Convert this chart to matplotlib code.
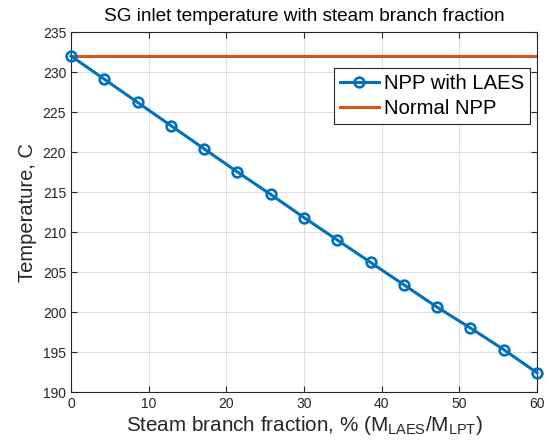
import matplotlib
matplotlib.use('Agg')
import matplotlib.pyplot as plt

plt.rcParams['font.family'] = ['Liberation Sans', 'DejaVu Sans']
plt.rcParams['mathtext.default'] = 'regular'

# steam branch fraction, % and SG inlet temperature, C
branch_frac = [0, 4.29, 8.57, 12.86, 17.14, 21.43, 25.71, 30.0,
               34.29, 38.57, 42.86, 47.14, 51.43, 55.71, 60.0]
temp_laes = [232.0, 229.1, 226.2, 223.3, 220.4, 217.5, 214.7, 211.8,
             209.0, 206.2, 203.4, 200.6, 198.0, 195.3, 192.4]
normal_x = [0, 60]
normal_temp = [232.0, 232.0]

blue = '#0072BD'
orange = '#D95319'
dark = '#262626'

fig = plt.figure(figsize=(5.5, 4.45), dpi=100)
ax = fig.add_axes([71 / 550, 1 - 392 / 445, 466 / 550, 360 / 445])

ax.plot(branch_frac, temp_laes, color=blue, lw=2.2, marker='o', ms=7,
        mfc='none', mew=1.9, label='NPP with LAES', clip_on=False, zorder=3)
ax.plot(normal_x, normal_temp, color=orange, lw=2.2, label='Normal NPP', zorder=2)

ax.set_xlim(0, 60)
ax.set_ylim(190, 235)
ax.set_xticks(range(0, 61, 10))
ax.set_yticks(range(190, 236, 5))
ax.grid(True, color='#DFDFDF', lw=0.8)
ax.set_axisbelow(True)
ax.tick_params(direction='in', top=True, right=True, labelsize=10,
               colors=dark, length=4, width=0.8)
for s in ax.spines.values():
    s.set_color(dark)
    s.set_linewidth(0.8)

ax.set_title('SG inlet temperature with steam branch fraction', fontsize=13.7, pad=8)
ax.set_xlabel('Steam branch fraction, % (M$_{LAES}$/M$_{LPT}$)', fontsize=14.9,
              color=dark, labelpad=2)
ax.set_ylabel('Temperature, C', fontsize=14.5, color=dark, labelpad=4)

leg = ax.legend(loc='upper right', bbox_to_anchor=(0.985, 0.9), borderaxespad=0,
                fontsize=14.6, handlelength=1.9, fancybox=False,
                framealpha=1, edgecolor=dark, borderpad=0.3, labelspacing=0.28,
                handletextpad=0.25)
leg.get_frame().set_linewidth(0.8)

fig.savefig('out.png', dpi=100)
